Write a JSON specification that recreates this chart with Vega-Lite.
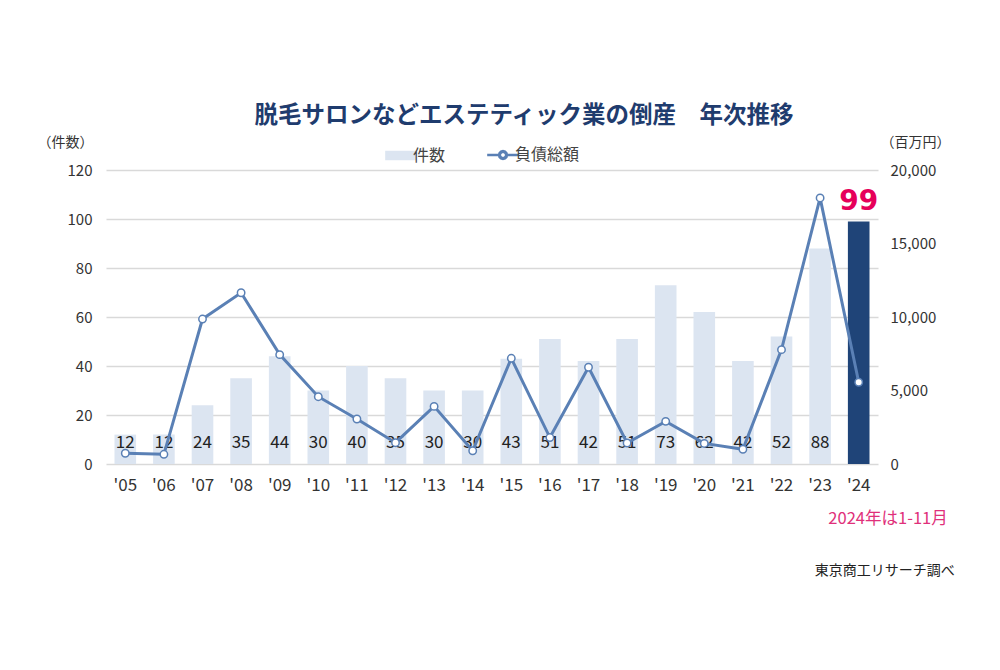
{
  "$schema": "https://vega.github.io/schema/vega-lite/v6.json",
  "autosize": "none",
  "width": 772,
  "height": 294,
  "padding": {"left": 106, "top": 170, "right": 122, "bottom": 206},
  "background": "white",
  "config": {
    "font": "Noto Sans CJK JP",
    "view": {"stroke": null}
  },
  "title": {
    "text": "脱毛サロンなどエステティック業の倒産　年次推移",
    "anchor": "middle",
    "dx": 32,
    "offset": 8,
    "fontSize": 23.5,
    "fontWeight": "bold",
    "color": "#1f3c6e",
    "font": "Noto Sans CJK JP"
  },
  "data": {
    "values": [
      {"year": "'05", "count": 12, "debt": 730},
      {"year": "'06", "count": 12, "debt": 660},
      {"year": "'07", "count": 24, "debt": 9860},
      {"year": "'08", "count": 35, "debt": 11650},
      {"year": "'09", "count": 44, "debt": 7440},
      {"year": "'10", "count": 30, "debt": 4580},
      {"year": "'11", "count": 40, "debt": 3060},
      {"year": "'12", "count": 35, "debt": 1450},
      {"year": "'13", "count": 30, "debt": 3920},
      {"year": "'14", "count": 30, "debt": 900},
      {"year": "'15", "count": 43, "debt": 7190},
      {"year": "'16", "count": 51, "debt": 1800},
      {"year": "'17", "count": 42, "debt": 6580},
      {"year": "'18", "count": 51, "debt": 1430},
      {"year": "'19", "count": 73, "debt": 2900},
      {"year": "'20", "count": 62, "debt": 1400},
      {"year": "'21", "count": 42, "debt": 1000},
      {"year": "'22", "count": 52, "debt": 7780},
      {"year": "'23", "count": 88, "debt": 18100},
      {"year": "'24", "count": 99, "debt": 5560}
    ]
  },
  "encoding": {
    "x": {
      "field": "year",
      "type": "nominal",
      "sort": null,
      "scale": {"paddingInner": 0.44, "paddingOuter": 0.22},
      "axis": {
        "title": null,
        "labelAngle": 0,
        "labelFontSize": 17,
        "labelColor": "#333333",
        "labelPadding": 13,
        "ticks": false,
        "domain": false
      }
    }
  },
  "layer": [
    {
      "layer": [
        {
          "transform": [{"filter": "datum.year != \"'24\""}],
          "mark": {"type": "bar"},
          "encoding": {
            "y": {
              "field": "count",
              "type": "quantitative",
              "scale": {"domain": [0, 120]},
              "axis": {
                "title": "（件数）",
                "titleAngle": 0,
                "titleX": -41,
                "titleY": -28,
                "titleAlign": "center",
                "titleBaseline": "middle",
                "titleFontSize": 14,
                "titleFontWeight": "normal",
                "titleColor": "#333333",
                "values": [0, 20, 40, 60, 80, 100, 120],
                "labelFontSize": 15,
                "labelColor": "#333333",
                "labelPadding": 14,
                "ticks": false,
                "domain": false,
                "grid": true,
                "gridColor": "#d9d9d9",
                "gridWidth": 1.5
              }
            },
            "color": {
              "datum": "件数",
              "scale": {"domain": ["件数", "負債総額"], "range": ["#dce5f1", "#5a80b5"]},
              "legend": {
                "title": null,
                "orient": "none",
                "direction": "horizontal",
                "legendX": 287,
                "legendY": -23,
                "symbolSize": 1000,
                "labelFontSize": 16,
                "labelColor": "#444444",
                "labelOffset": 4,
                "columnPadding": 36,
                "encode": {
                  "symbols": {
                    "update": {
                      "shape": {"signal": "datum.value === '件数' ? 'M-1,-0.3H1V0.3H-1Z' : 'M-1,0H-0.25M0.25,0H1M0.25,0L0.2165,0.125L0.125,0.2165L0,0.25L-0.125,0.2165L-0.2165,0.125L-0.25,0L-0.2165,-0.125L-0.125,-0.2165L0,-0.25L0.125,-0.2165L0.2165,-0.125ZM0.2,0L0.173,-0.1L0.1,-0.173L0,-0.2L-0.1,-0.173L-0.173,-0.1L-0.2,0L-0.173,0.1L-0.1,0.173L0,0.2L0.1,0.173L0.173,0.1Z'"},
                      "fill": {"signal": "datum.value === '件数' ? '#dce5f1' : '#ffffff'"},
                      "stroke": {"signal": "datum.value === '件数' ? '#dce5f1' : '#5a80b5'"},
                      "strokeWidth": {"signal": "datum.value === '件数' ? 0 : 2.5"},
                      "opacity": {"value": 1},
                      "fillOpacity": {"value": 1}
                    }
                  }
                }
              }
            }
          }
        },
        {
          "transform": [{"filter": "datum.year == \"'24\""}],
          "mark": {"type": "bar", "color": "#1f4478"},
          "encoding": {
            "y": {"field": "count", "type": "quantitative"}
          }
        },
        {
          "transform": [{"filter": "datum.year != \"'24\""}],
          "mark": {"type": "text", "fontSize": 17, "color": "#222222", "baseline": "middle", "dy": -21},
          "encoding": {
            "y": {"datum": 0},
            "text": {"field": "count", "type": "quantitative"}
          }
        },
        {
          "transform": [{"filter": "datum.year == \"'24\""}],
          "mark": {"type": "text", "fontSize": 28, "fontWeight": "bold", "color": "#e6005a", "baseline": "bottom", "dy": -5, "font": "DejaVu Sans"},
          "encoding": {
            "y": {"field": "count", "type": "quantitative"},
            "text": {"field": "count", "type": "quantitative"}
          }
        },
        {
          "data": {"values": [{"note": "2024年は1-11月"}]},
          "mark": {"type": "text", "fontSize": 16.5, "color": "#e0307a", "align": "right", "baseline": "middle", "dx": 89},
          "encoding": {
            "x": {"datum": "'24"},
            "y": {"datum": -22.5},
            "text": {"field": "note", "type": "nominal"}
          }
        },
        {
          "data": {"values": [{"note": "東京商工リサーチ調べ"}]},
          "mark": {"type": "text", "fontSize": 14, "color": "#222222", "align": "right", "baseline": "middle", "dx": 96},
          "encoding": {
            "x": {"datum": "'24"},
            "y": {"datum": -43.7},
            "text": {"field": "note", "type": "nominal"}
          }
        }
      ]
    },
    {
      "layer": [
        {
          "mark": {"type": "line", "strokeWidth": 3},
          "encoding": {
            "y": {
              "field": "debt",
              "type": "quantitative",
              "scale": {"domain": [0, 20000]},
              "axis": {
                "orient": "right",
                "title": "（百万円）",
                "titleAngle": 0,
                "titleX": 37,
                "titleY": -28,
                "titleAlign": "center",
                "titleBaseline": "middle",
                "titleFontSize": 14,
                "titleFontWeight": "normal",
                "titleColor": "#333333",
                "values": [0, 5000, 10000, 15000, 20000],
                "format": ",.0f",
                "labelFontSize": 15,
                "labelColor": "#333333",
                "labelPadding": 12,
                "ticks": false,
                "domain": false,
                "grid": false
              }
            },
            "color": {"datum": "負債総額"}
          }
        },
        {
          "mark": {"type": "point", "filled": true, "fill": "#ffffff", "stroke": "#5a80b5", "strokeWidth": 1.5, "size": 55, "opacity": 1},
          "encoding": {
            "y": {"field": "debt", "type": "quantitative"}
          }
        }
      ]
    }
  ],
  "resolve": {"scale": {"y": "independent"}}
}
